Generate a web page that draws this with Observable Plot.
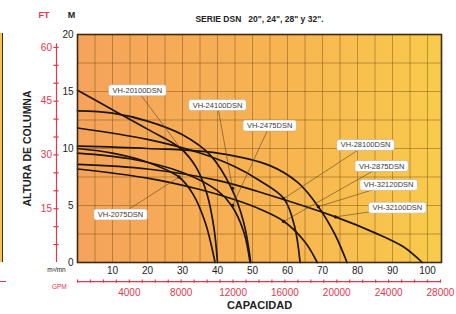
<!DOCTYPE html>
<html><head><meta charset="utf-8">
<script src="https://cdn.jsdelivr.net/npm/d3@7"></script>
<script src="https://cdn.jsdelivr.net/npm/@observablehq/plot@0.6"></script>
<style>
body{margin:0;background:#fff;}
#chart{position:relative;width:456px;height:314px;overflow:hidden;}
#edge{position:absolute;left:0;top:33px;width:2px;height:229px;background:#f6c54a;border-right:1.5px solid #333;}
#edge2{position:absolute;left:0;top:281px;width:6px;height:1.2px;background:#e03a4a;}
</style></head><body><div id="chart"><div id="edge"></div><div id="edge2"></div></div>
<script>
const title = 'SERIE DSN   20", 24", 28" y 32".';
const yTitle = "ALTURA DE COLUMNA";
const xTitle = "CAPACIDAD";

// pump curves: [capacity m3/min, head m]
const vh20100 = [[0,15.1],[10,13.4],[20,11.7],[29.5,10.0],[34,8.3],[37,6],[39,3],[40,0]];
const vh2075  = [[0,10.0],[10,9.6],[20,8.8],[29,7.5],[33,6.0],[36.5,3.5],[39.3,0]];
const vh24100 = [[0,13.3],[10,13.1],[20,12.4],[30,11.2],[38,9.4],[44,6.5],[47.5,3.5],[49.5,0]];
const vh2475  = [[0,9.6],[15,9.1],[30,7.9],[40,6.3],[44,5.0],[47.5,2.7],[49.3,0]];
const vh28100 = [[0,11.8],[20,10.8],[35,9.6],[45,8.4],[52,7.2],[59,5.6],[62,3.2],[63.6,0]];
const vh2875  = [[0,8.2],[20,7.4],[35,6.4],[45,5.5],[52,4.7],[59,3.6],[65,1.8],[68.5,0]];
const vh32120 = [[0,10.2],[20,10.0],[40,9.6],[55,8.5],[63,7],[68.8,4.9],[73.5,2.5],[77,0]];
const vh32100 = [[0,8.6],[20,8.2],[40,7.2],[55,5.9],[73.7,4.0],[85,2.6],[93,1.4],[98.5,0]];

const models = ["VH-20100DSN","VH-2075DSN","VH-24100DSN","VH-2475DSN","VH-28100DSN","VH-2875DSN","VH-32120DSN","VH-32100DSN"];
const curves = [vh20100, vh2075, vh24100, vh2475, vh28100, vh2875, vh32120, vh32100];

// label anchor (lx,ly) and pointed curve point (px,py), in data units
const labelX = [17.1, 12.3, 40.0, 54.9, 82.3, 86.9, 88.9, 91.4];
const labelY = [15.1, 4.2, 13.8, 12.0, 10.3, 8.45, 6.8, 4.8];
const pointX = [29.5, 29.0, 44.3, 44.3, 58.9, 58.9, 68.8, 73.7];
const pointY = [10.0, 7.5, 6.5, 5.0, 5.6, 3.6, 4.9, 4.0];

const mTicks = [0,5,10,15,20];
const flowTicks = [10,20,30,40,50,60,70,80,90,100];
const ftLabels = [15,30,45,60];
const ftTicks = [5,10,15,20,25,30,35,40,45,50,55,60];
const gpmLabels = [4000,8000,12000,16000,20000,24000,28000];
const gpmTicks = d3.range(0, 28001, 1000);
const gridX = d3.range(5, 101, 5);
const gridY = [2.5,5,7.5,10,12.5,15,17.5];

const FT_PER_M = 3.18;
const GPM_PER_UNIT = 270;
const RED = "#e2384c";
const ftAxisX = -6;      // flow units, left of frame
const gpmAxisY = -1.67;  // head units, below frame

const rows = curves.flatMap((c, i) => c.map(([q, h]) => ({model: models[i], q, h})));
const pointers = models.map((m, i) => ({model: m, lx: labelX[i], ly: labelY[i], px: pointX[i], py: pointY[i]}));

const plot = Plot.plot({
  width: 456, height: 314,
  marginLeft: 77, marginRight: 15, marginTop: 34, marginBottom: 52,
  x: {domain: [0, 104], axis: null},
  y: {domain: [0, 20], axis: null},
  style: {fontFamily: "'Liberation Sans Narrow','Arial Narrow','Liberation Sans',Arial,sans-serif", fontSize: "10px", background: "transparent", overflow: "visible"},
  marks: [
    Plot.frame({fill: "url(#bggrad)"}),
    Plot.ruleX(gridX, {stroke: "#6e4712", strokeOpacity: 0.55, strokeWidth: 0.8}),
    Plot.ruleY(gridY, {stroke: "#6e4712", strokeOpacity: 0.55, strokeWidth: 0.8}),
    Plot.line(rows, {x: "q", y: "h", z: "model", curve: "catmull-rom", stroke: "#1e1408", strokeWidth: 1.7}),
    Plot.link(pointers, {x1: "lx", y1: "ly", x2: "px", y2: "py", stroke: "#5a4628", strokeWidth: 0.6}),
    Plot.dot(pointers, {x: "px", y: "py", r: 1.7, fill: "#1e1408"}),
    Plot.text(pointers, {x: "lx", y: "ly", text: "model", fontSize: 7.5, fill: "#3a3a3a"}),
    Plot.frame({stroke: "#3b2a10", strokeWidth: 1.6}),
    Plot.axisY(mTicks, {anchor: "left", tickSize: 0, tickPadding: 4, fontSize: 10, fill: "#222"}),
    Plot.axisX(flowTicks, {anchor: "bottom", tickSize: 0, tickPadding: 4, fontSize: 10, fill: "#222"}),
    // FT axis
    Plot.ruleX([ftAxisX], {y1: 0, y2: 61 / FT_PER_M, stroke: RED, strokeWidth: 1.2}),
    Plot.ruleY(ftTicks, {y: d => d / FT_PER_M, x1: ftAxisX - 0.75, x2: ftAxisX + 0.75, stroke: RED, strokeWidth: 1.2}),
    Plot.text(ftLabels, {x: ftAxisX - 1.3, y: d => d / FT_PER_M, text: d => String(d), textAnchor: "end", fill: RED, fontSize: 10}),
    // GPM axis
    Plot.ruleY([gpmAxisY], {x1: 0, x2: 28000 / GPM_PER_UNIT, stroke: RED, strokeWidth: 1.2}),
    Plot.ruleX(gpmTicks, {x: d => d / GPM_PER_UNIT, y1: gpmAxisY - 0.14, y2: gpmAxisY + 0.14, stroke: RED, strokeWidth: 1.2}),
    Plot.text(gpmLabels, {x: d => d / GPM_PER_UNIT, y: gpmAxisY - 1.0, text: d => String(d), fill: RED, fontSize: 10}),
    // titles and unit labels
    Plot.text([title], {frameAnchor: "top", dy: -19, fontWeight: "bold", fontSize: 8.5, fill: "#222"}),
    Plot.text(["FT"], {x: -9.6, y: 21.7, fill: RED, fontWeight: "bold", fontSize: 9}),
    Plot.text(["M"], {x: -1.7, y: 21.7, fill: "#222", fontWeight: "bold", fontSize: 9}),
    Plot.text(["m³/mn"], {x: -6, y: -0.65, fill: "#222", fontSize: 6.5}),
    Plot.text(["GPM"], {x: -5.2, y: -2.1, fill: RED, fontSize: 6.5}),
    Plot.text([xTitle], {frameAnchor: "bottom", dy: 46, fontWeight: "bold", fontSize: 11, fill: "#222"}),
    Plot.text([yTitle], {x: -14.3, y: 10, rotate: -90, fontWeight: "bold", fontSize: 10.5, fill: "#222"})
  ]
});

document.getElementById("chart").appendChild(plot);
plot.style.position = "absolute"; plot.style.left = "0"; plot.style.top = "0";

// gradient defs
const svg = d3.select(plot);
const defs = svg.insert("defs", ":first-child");
const lg = defs.append("linearGradient").attr("id", "bggrad").attr("x1", "0").attr("x2", "1").attr("y1", "0").attr("y2", "0");
lg.append("stop").attr("offset", "0%").attr("stop-color", "#f5a35b");
lg.append("stop").attr("offset", "55%").attr("stop-color", "#f7b451");
lg.append("stop").attr("offset", "100%").attr("stop-color", "#f9cb4b");

// white boxes behind curve labels
plot.querySelectorAll('g[aria-label="text"]').forEach(g => {
  const texts = Array.from(g.querySelectorAll("text"));
  if (!texts.length || !texts[0].textContent.startsWith("VH-")) return;
  texts.forEach(t => {
    const b = t.getBBox();
    const r = document.createElementNS("http://www.w3.org/2000/svg", "rect");
    r.setAttribute("x", b.x - 4); r.setAttribute("y", b.y - 1);
    r.setAttribute("width", b.width + 8); r.setAttribute("height", b.height + 2);
    r.setAttribute("rx", 2.5); r.setAttribute("fill", "#fff");
    r.setAttribute("stroke", "#b9ab94"); r.setAttribute("stroke-width", 0.6);
    if (t.getAttribute("transform")) r.setAttribute("transform", t.getAttribute("transform"));
    g.insertBefore(r, t);
  });
});
</script></body></html>
